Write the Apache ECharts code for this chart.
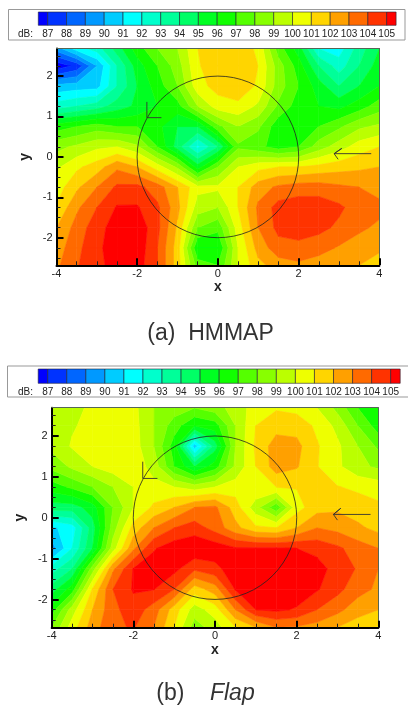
<!DOCTYPE html>
<html><head><meta charset="utf-8">
<style>html,body{margin:0;padding:0;background:#fff}#c{width:408px;height:709px}</style>
<script src="https://cdn.jsdelivr.net/npm/echarts@6/dist/echarts.min.js"></script>
</head><body><div id="c"></div>
<script>
const xNodes=[-4,-3.5,-3,-2.5,-2,-1.5,-1,-0.5,0,0.5,1,1.5,2,2.5,3,3.5,4];
const yNodes=[2.68,2.25,1.75,1.25,0.75,0.25,-0.25,-0.75,-1.25,-1.75,-2.25,-2.68];
const hmmapValues=[
[89.5,91.5,92.5,94.5,96.5,98,99,101,101.6,101.6,100.8,97.5,95.5,92,91.5,93.5,95],
[86.3,87.3,90,93,95.5,97,98.5,100.9,101.6,101.9,101,98.5,96.5,94,92.5,94,95.5],
[90.3,90.5,90.6,93,95,96.5,98,100.6,101.4,101.8,100.8,98.5,97,95.5,94,95,96],
[92.5,93,93.5,94.5,95.2,96,96.6,99,100.5,100.7,99.8,97.8,96.5,96,95.7,96.5,97.5],
[96.5,97,97.5,97,97,96.3,95,95,97.7,99,98.2,96.3,96,97,97.8,98.8,99.2],
[98.7,99.2,99.8,100,99.2,97,94.5,91.8,94,97.8,97.3,96.5,97,98.5,99.5,100.5,101],
[99.8,100.8,101.5,102.8,102,100.5,98.8,95.5,98,100,100.7,101,101,101.3,101.6,101.8,102],
[100.5,101.8,103,104.2,104.3,103.5,102,100.3,100.2,101,102.5,103.2,103.5,103.5,103.2,103,102.6],
[101.1,102.8,104,105.1,105.1,104.2,102.3,99.5,99,101,103.2,104.4,104.6,104.6,104.2,103.5,103.3],
[102,103.4,104.6,105.5,105.7,104.3,101.8,98,97.3,100.5,103,104.3,104.5,104.3,103.8,103.2,102.8],
[102.5,103.7,104.8,105.5,105.7,104,101.5,96,96,100,102.4,103.6,103.7,103.4,102.9,102.5,102.2],
[102.8,103.9,104.8,105.3,105.5,104,101.5,97.5,97,100,101.7,102.5,102.8,102.5,102.3,102,101.5]
];
const flapValues=[
[99.5,99.7,100.2,100.3,100.3,99,98.5,98,98.5,99.5,100.4,100.9,100.7,100,98.7,97,96],
[99.5,99.9,100.3,100.6,100.4,99,97.5,96,96.5,99,101,101.6,101.6,100.8,99.7,98,96.5],
[99.3,100.1,100.5,100.6,100.5,99,96.5,90.5,94.5,99,101.2,102.5,102.3,101.1,100.2,99,97.8],
[98.3,99.2,100,100.5,100.6,99.6,97,95,96.5,99.2,101,102.5,102.1,101.05,100.2,99.3,98.8],
[96.5,97.2,98,99,100,100.3,100,99.5,100,100.5,100.9,101,101.05,101.2,101.05,100.8,100.6],
[94.5,94.5,95.5,98,100,101.2,102,103,103.2,101.5,99.4,97.3,100.6,101.6,101.8,101.5,101.2],
[90.8,91.5,94.5,98.5,101.4,103,104,104.5,103.6,102.3,101.2,101,102,103,102.7,102.2,101.7],
[89.5,92,95,99.5,102.8,104.9,105.6,105.8,105.6,105.1,105.1,105.1,105,104.7,104.2,103.5,103],
[92.5,94,98.5,102.8,105.05,105.5,105.3,104.2,104.7,105.6,105.7,105.7,105.6,105.4,104.6,103.9,103],
[94.5,96.5,101.1,104,105.1,105.05,104,101.5,102.5,105.1,105.6,105.6,105.6,105.1,104.3,103.4,102.8],
[96.5,99.5,102,103.7,104.6,103.5,101.5,99.5,100.5,103,105,105.2,104.9,104,103.3,102.4,102],
[98,100.5,102.5,103.8,104.1,103,101,98.5,99.5,101,102,103,102.9,102.6,102,101.5,100.9]
];
const bandEdges=[87,88,89,90,91,92,93,94,95,96,97,98,99,100,101,102,103,104,105];
const bandColors=['#0000ff','#0033ff','#0066ff','#0099ff','#00ccff','#00ffff','#00ffcc','#00ff99','#00ff66','#00ff22','#11ff00','#55ff00','#88ff00','#bbff00','#eeff00','#ffd500','#ffa000','#ff6a00','#ff3300','#ff0000'];
const yMajorTicks=[-2,-1,0,1,2];
const yMinorTicks=[-2.5,-2.25,-1.75,-1.5,-1.25,-0.75,-0.5,-0.25,0.25,0.5,0.75,1.25,1.5,1.75,2.25,2.5];
const hmmapArrow=[[3.8,0.08],[2.88,0.08],[3.07,0.21],[2.88,0.08],[2.98,-0.06]];
const hmmapMark=[[-1.4,0.97],[-1.76,0.97],[-1.76,1.36]];
const flapArrow=[[3.81,0.08],[2.9,0.08],[3.08,0.23],[2.9,0.08],[3.0,-0.06]];
const flapMark=[[-1.41,0.96],[-1.77,0.96],[-1.77,1.37]];
const micRadius=2;

function clipPoly(p,level,keepAbove){
  const out=[];
  for(let i=0;i<p.length;i++){
    const a=p[i],b=p[(i+1)%p.length];
    const ai=keepAbove?a[2]>=level:a[2]<=level, bi=keepAbove?b[2]>=level:b[2]<=level;
    if(ai) out.push(a);
    if(ai!==bi){const t=(level-a[2])/(b[2]-a[2]);out.push([a[0]+t*(b[0]-a[0]),a[1]+t*(b[1]-a[1]),level]);}
  }
  return out;
}
function cellsOf(vals){
  const d=[];
  for(let r=0;r<yNodes.length-1;r++)for(let c=0;c<xNodes.length-1;c++)
    d.push([xNodes[c],yNodes[r],xNodes[c+1],yNodes[r+1],vals[r][c],vals[r][c+1],vals[r+1][c+1],vals[r+1][c]]);
  return d;
}
function renderCell(params,api){
  const x0=api.value(0),y0=api.value(1),x1=api.value(2),y1=api.value(3);
  const quad=[[x0,y0,api.value(4)],[x1,y0,api.value(5)],[x1,y1,api.value(6)],[x0,y1,api.value(7)]];
  const children=[];
  for(let b=0;b<bandColors.length;b++){
    let p=quad;
    if(b>0)p=clipPoly(p,bandEdges[b-1],true);
    if(p.length&&b<bandEdges.length)p=clipPoly(p,bandEdges[b],false);
    if(p.length<3)continue;
    children.push({type:'polygon',shape:{points:p.map(q=>api.coord([q[0],q[1]]))},
      style:{fill:bandColors[b],stroke:bandColors[b],lineWidth:0.6}});
  }
  return {type:'group',children};
}
const AX='#000';
const grids=[],xAxes=[],yAxes=[],series=[];
function panel(g,vals,arrow,mark,yExt){
  const gi=grids.length;
  grids.push({left:g.left,top:g.top,width:g.width,height:g.height});
  const xi=xAxes.length,yi=yAxes.length;
  xAxes.push({type:'value',gridIndex:gi,min:-4,max:4,interval:2,position:'bottom',z:5,
    name:'x',nameLocation:'middle',nameGap:15,nameTextStyle:{fontFamily:'Liberation Sans',fontWeight:'bold',fontSize:14,color:'#222'},
    axisLine:{show:true,onZero:false,lineStyle:{color:AX,width:2}},
    axisTick:{show:true,inside:true,length:7,lineStyle:{color:AX,width:2}},
    minorTick:{show:true,splitNumber:4,length:4,lineStyle:{color:'#222',width:1}},
    axisLabel:{fontFamily:'Liberation Sans',fontSize:11,color:'#222',margin:3,formatter:v=>String(v)},
    splitLine:{show:false},minorSplitLine:{show:false}});
  xAxes.push({type:'value',gridIndex:gi,min:-4,max:4,position:'top',z:5,axisLine:{show:true,onZero:false,lineStyle:{color:'#556655',width:1}},axisTick:{show:false},axisLabel:{show:false},splitLine:{show:false}});
  yAxes.push({type:'value',gridIndex:gi,min:-yExt,max:yExt,position:'left',z:5,
    name:'y',nameLocation:'middle',nameGap:g.nameGap,nameTextStyle:{fontFamily:'Liberation Sans',fontWeight:'bold',fontSize:14,color:'#222'},
    axisLine:{show:true,onZero:false,lineStyle:{color:AX,width:2}},
    axisTick:{show:true,inside:true,length:7,lineStyle:{color:AX,width:2},customValues:yMajorTicks},
    axisLabel:{fontFamily:'Liberation Sans',fontSize:11,color:'#222',margin:4,customValues:yMajorTicks,formatter:v=>String(v)},
    splitLine:{show:false}});
  yAxes.push({type:'value',gridIndex:gi,min:-yExt,max:yExt,position:'left',z:5,
    axisLine:{show:false,onZero:false},
    axisTick:{show:true,inside:true,length:4,lineStyle:{color:'#222',width:1},customValues:yMinorTicks},
    axisLabel:{show:false},splitLine:{show:false}});
  yAxes.push({type:'value',gridIndex:gi,min:-yExt,max:yExt,position:'right',z:5,axisLine:{show:true,onZero:false,lineStyle:{color:'#556655',width:1}},axisTick:{show:false},axisLabel:{show:false},splitLine:{show:false}});
  series.push({type:'custom',xAxisIndex:xi,yAxisIndex:yi,data:cellsOf(vals),renderItem:renderCell,silent:true,animation:false,clip:true,z:1,encode:{x:[0,2],y:[1,3]}});
  series.push({type:'custom',xAxisIndex:xi,yAxisIndex:yi,data:[[0,0]],silent:true,animation:false,z:3,clip:true,encode:{x:0,y:1},
    renderItem:(p,api)=>{const c=api.coord([0,0]),s=api.size([micRadius,micRadius]);
      return {type:'circle',shape:{cx:c[0],cy:c[1],r:(s[0]+s[1])/2},style:{fill:null,stroke:'#222',lineWidth:0.8}};}});
  [arrow,mark].forEach(d=>series.push({type:'line',xAxisIndex:xi,yAxisIndex:yi,data:d,showSymbol:false,symbol:'none',silent:true,animation:false,z:4,lineStyle:{color:'#333',width:0.9}}));
}
function colorbar(g){
  const gi=grids.length;
  grids.push({left:g.left,top:g.top,width:g.width,height:g.height});
  const xi=xAxes.length,yi=yAxes.length;
  xAxes.push({type:'value',gridIndex:gi,min:86.5,max:105.5,position:'bottom',z:5,
    axisLine:{show:false},axisTick:{show:false},splitLine:{show:false},
    axisLabel:{customValues:bandEdges,fontFamily:'Liberation Sans',fontSize:10,color:'#222',margin:g.margin,formatter:v=>String(v),hideOverlap:false,showMinLabel:true,showMaxLabel:true}});
  yAxes.push({type:'value',gridIndex:gi,min:0,max:1,show:false});
  const lows=[86.5].concat(bandEdges),highs=bandEdges.concat([105.5]);
  series.push({type:'custom',xAxisIndex:xi,yAxisIndex:yi,silent:true,animation:false,z:2,encode:{x:[0,1]},
    data:bandColors.map((c,i)=>[lows[i],highs[i],i]),
    renderItem:(p,api)=>{const a=api.coord([api.value(0),1]),b=api.coord([api.value(1),0]);
      return {type:'rect',shape:{x:a[0],y:a[1],width:b[0]-a[0],height:b[1]-a[1]},style:{fill:bandColors[api.value(2)],stroke:'#223',lineWidth:0.6}};}});
}
panel({left:56.5,top:48.5,width:322.8,height:216.8,nameGap:16},hmmapValues,hmmapArrow,hmmapMark,2.68);
colorbar({left:38.3,top:12,width:357.8,height:13.3,margin:4});
panel({left:51.7,top:407.7,width:326.6,height:220,nameGap:19},flapValues,flapArrow,flapMark,2.69);
colorbar({left:38.2,top:369,width:362,height:14.3,margin:4});
const frame=(x,y,w,h)=>({type:'rect',silent:true,z:-1,shape:{x,y,width:w,height:h},style:{fill:'#fff',stroke:'#999',lineWidth:1}});
const chart=echarts.init(document.getElementById('c'),null,{renderer:'canvas'});
chart.setOption({animation:false,grid:grids,xAxis:xAxes,yAxis:yAxes,series,
  graphic:[
    frame(8.5,9.5,396.5,30.5),
    frame(7.5,366,402,31),
    {type:'text',z:10,silent:true,style:{x:33,y:34,text:'dB:',align:'right',verticalAlign:'middle',font:'10px "Liberation Sans"',fill:'#222'}},
    {type:'text',z:10,silent:true,style:{x:33,y:392,text:'dB:',align:'right',verticalAlign:'middle',font:'10px "Liberation Sans"',fill:'#222'}},
    {type:'text',z:10,silent:true,style:{x:210.5,y:334,text:'(a)  HMMAP',align:'center',verticalAlign:'middle',font:'23px "Liberation Sans"',fill:'#333'}},
    {type:'text',z:10,silent:true,style:{x:205.5,y:694,text:'(b)    {i|Flap}',align:'center',verticalAlign:'middle',font:'23px "Liberation Sans"',fill:'#333',rich:{i:{font:'italic 23px "Liberation Sans"',fill:'#333'}}}}
  ]});
</script></body></html>
